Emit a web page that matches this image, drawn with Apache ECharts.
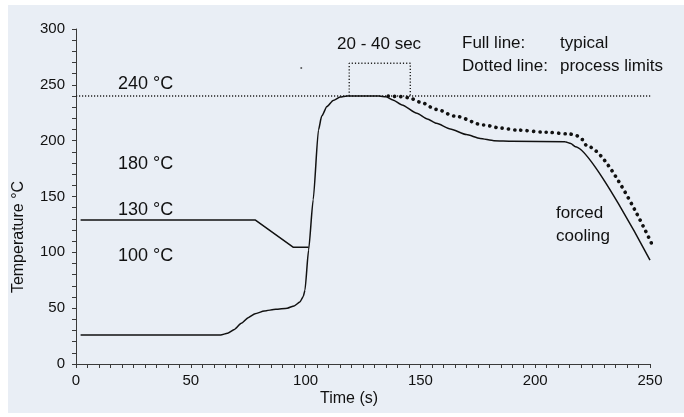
<!DOCTYPE html>
<html><head><meta charset="utf-8">
<script src="https://cdn.jsdelivr.net/npm/echarts@6/dist/echarts.min.js"></script>
<style>html,body{margin:0;padding:0;background:#fff}#c{width:684px;height:417px}</style>
</head><body><div id="c"></div>
<script>
const xTicks = [0, 50, 100, 150, 200, 250];
const yTicks = [0, 50, 100, 150, 200, 250, 300];
// typical profile (full line)
const typicalProfile = [[2,26],[63,26],[66,27.5],[69,31],[72,36.5],[75,41.5],[78,45],[82,47.5],[87,49],[92,50],[95,52],[97.5,55.5],[99,60.5],[99.7,66],[101.3,102],[103.3,147],[105.6,209.5],[107,222],[109.3,230.5],[112,236],[115,239],[118,240],[132,240],[135,239.3],[138,236.5],[142,232],[148.5,224.5],[153,219.5],[157,215.5],[163,210.5],[170,205.5],[176,202],[182,200],[190,199.5],[213,199],[215.5,197.5],[217.5,194.6],[250,93]];
// upper preheat line (130 °C -> 100 °C)
const preheatProfile = [[2,129],[78,129],[94.7,104.5],[101.3,104.5]];
// process limits (dotted line)
const limitProfile = [[136,240],[141,239.5],[145,238.5],[150,234.5],[157,228],[165,222],[177.6,214],[185,211.3],[192,209.5],[205,207.5],[215,206],[218,204.5],[220.5,201],[222.6,195],[251,106.6]];
// 240 °C reference line
const peakLine = [[0,240],[254.6,240]];
// 20 - 40 sec bracket
const bracket = [[119,240],[119,269.3],[145.6,269.3],[145.6,240]];
const strayDots = [[98.1,265]];

const FONT = 'Liberation Sans';
const TXT = '#111111';
const chart = echarts.init(document.getElementById('c'));
function txt(x, y, s, size, extra) {
  return Object.assign({type:'text', x:x, y:y, z:50, style:{text:s, font: size+'px "'+FONT+'"', fill:TXT, textVerticalAlign:'middle'}}, extra||{});
}
chart.setOption({
  animation:false,
  backgroundColor:'#ffffff',
  grid:{left:76, top:29, right:34, bottom:53, containLabel:false},
  xAxis:{type:'value', min:0, max:250, interval:50,
    axisLine:{lineStyle:{color:'#3a3a3a', width:1}},
    axisTick:{show:true, length:4, lineStyle:{color:'#3a3a3a'}},
    minorTick:{show:true, splitNumber:10, length:4, lineStyle:{color:'#3a3a3a'}},
    splitLine:{show:false},
    axisLabel:{margin:9, fontSize:15, color:TXT, fontFamily:FONT}
  },
  yAxis:{type:'value', min:0, max:300, interval:50,
    axisLine:{show:true, lineStyle:{color:'#3a3a3a', width:1}},
    axisTick:{show:true, length:4, lineStyle:{color:'#3a3a3a'}},
    minorTick:{show:true, splitNumber:5, length:4, lineStyle:{color:'#3a3a3a'}},
    splitLine:{show:false},
    axisLabel:{margin:11, fontSize:15, color:TXT, fontFamily:FONT}
  },
  graphic:[
    {type:'rect', shape:{x:8, y:5, width:676, height:408}, style:{fill:'#e9eef5'}, z:-100, silent:true},
    txt(118, 84, '240 °C', 18),
    txt(118, 164, '180 °C', 18),
    txt(118, 210, '130 °C', 18),
    txt(118, 256, '100 °C', 18),
    txt(337, 44, '20 - 40 sec', 17),
    txt(462, 43, 'Full line:', 17),
    txt(560, 43, 'typical', 17),
    txt(462, 66, 'Dotted line:', 17),
    txt(560, 66, 'process limits', 17),
    txt(556, 213, 'forced', 17),
    txt(556, 236, 'cooling', 17),
    {type:'text', x:349, y:399, z:50, style:{text:'Time (s)', font:'16px "'+FONT+'"', fill:TXT, textAlign:'center', textVerticalAlign:'middle'}},
    {type:'text', x:19, y:237, rotation:Math.PI/2, z:50, style:{text:'Temperature °C', font:'16px "'+FONT+'"', fill:TXT, textAlign:'center', textVerticalAlign:'middle'}}
  ],
  series:[
    {type:'line', data:peakLine, showSymbol:false, clip:false, z:1,
      lineStyle:{color:'#222', width:1.3, type:[1.2,1.8]}},
    {type:'line', data:bracket, showSymbol:false, z:1,
      lineStyle:{color:'#222', width:1.4, type:[1.2,2]}},
    {type:'line', data:limitProfile, showSymbol:false, clip:false, smooth:0.3, smoothMonotone:'x', z:3,
      lineStyle:{color:'#111', width:3.6, type:[0.1,6.2], cap:'round'}},
    {type:'line', data:typicalProfile, showSymbol:false, smooth:0.2, smoothMonotone:'x', z:4,
      lineStyle:{color:'#111', width:1.5}},
    {type:'line', data:preheatProfile, showSymbol:false, z:4,
      lineStyle:{color:'#111', width:1.5}},
    {type:'scatter', data:strayDots, symbolSize:2, clip:false, itemStyle:{color:'#333'}}
  ]
});
</script></body></html>
